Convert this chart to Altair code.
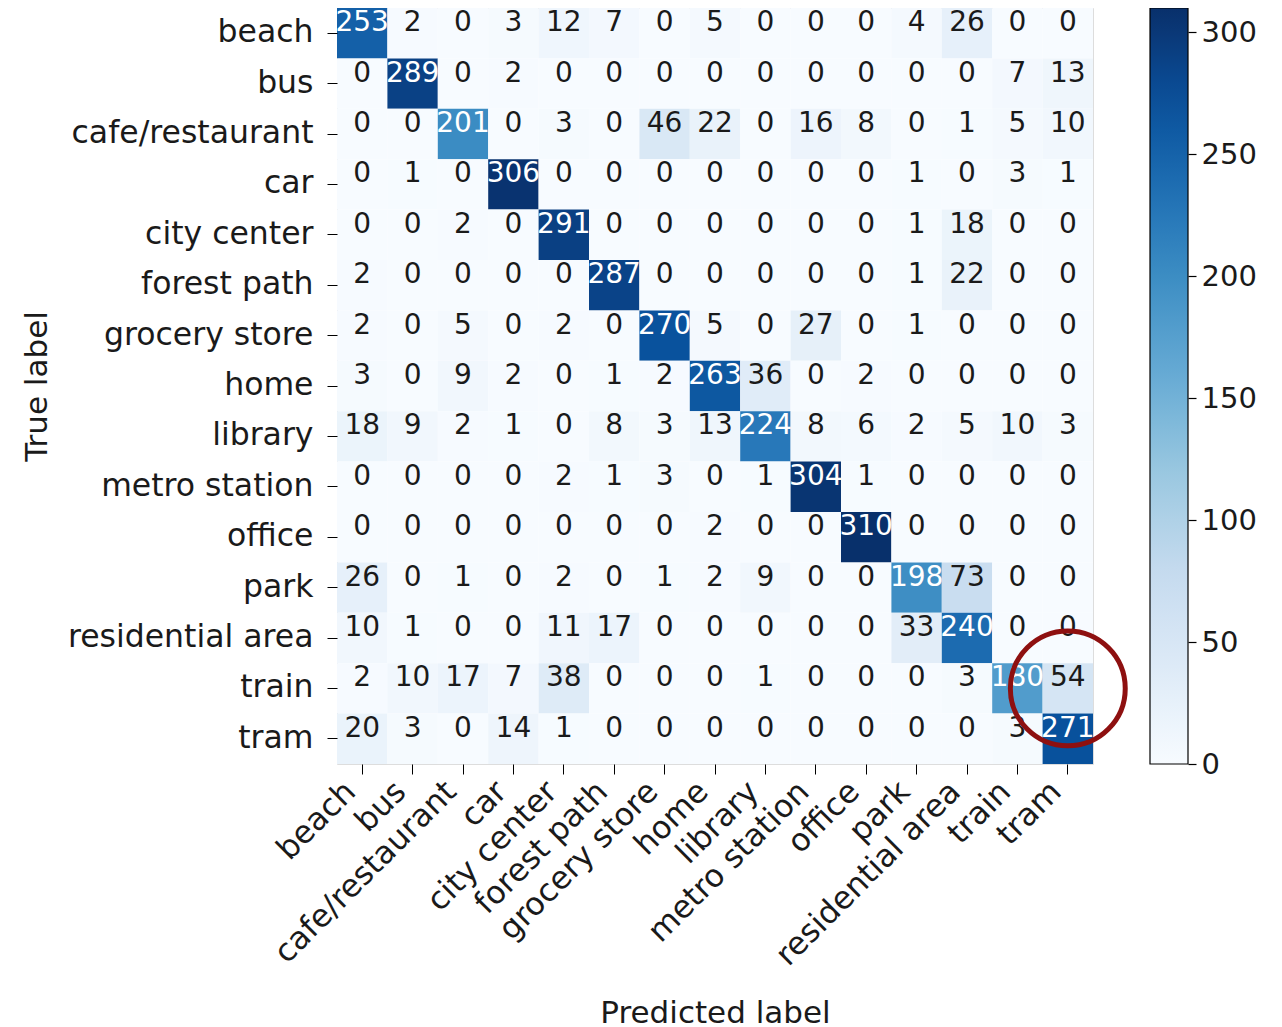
import altair as alt
import pandas as pd

labels = ["beach", "bus", "cafe/restaurant", "car", "city center", "forest path",
          "grocery store", "home", "library", "metro station", "office", "park",
          "residential area", "train", "tram"]

row_beach = [253, 2, 0, 3, 12, 7, 0, 5, 0, 0, 0, 4, 26, 0, 0]
row_bus = [0, 289, 0, 2, 0, 0, 0, 0, 0, 0, 0, 0, 0, 7, 13]
row_cafe = [0, 0, 201, 0, 3, 0, 46, 22, 0, 16, 8, 0, 1, 5, 10]
row_car = [0, 1, 0, 306, 0, 0, 0, 0, 0, 0, 0, 1, 0, 3, 1]
row_city = [0, 0, 2, 0, 291, 0, 0, 0, 0, 0, 0, 1, 18, 0, 0]
row_forest = [2, 0, 0, 0, 0, 287, 0, 0, 0, 0, 0, 1, 22, 0, 0]
row_grocery = [2, 0, 5, 0, 2, 0, 270, 5, 0, 27, 0, 1, 0, 0, 0]
row_home = [3, 0, 9, 2, 0, 1, 2, 263, 36, 0, 2, 0, 0, 0, 0]
row_library = [18, 9, 2, 1, 0, 8, 3, 13, 224, 8, 6, 2, 5, 10, 3]
row_metro = [0, 0, 0, 0, 2, 1, 3, 0, 1, 304, 1, 0, 0, 0, 0]
row_office = [0, 0, 0, 0, 0, 0, 0, 2, 0, 0, 310, 0, 0, 0, 0]
row_park = [26, 0, 1, 0, 2, 0, 1, 2, 9, 0, 0, 198, 73, 0, 0]
row_residential = [10, 1, 0, 0, 11, 17, 0, 0, 0, 0, 0, 33, 240, 0, 0]
row_train = [2, 10, 17, 7, 38, 0, 0, 0, 1, 0, 0, 0, 3, 180, 54]
row_tram = [20, 3, 0, 14, 1, 0, 0, 0, 0, 0, 0, 0, 0, 3, 271]

rows = [row_beach, row_bus, row_cafe, row_car, row_city, row_forest, row_grocery,
        row_home, row_library, row_metro, row_office, row_park, row_residential,
        row_train, row_tram]

colorbar_ticks = [0, 50, 100, 150, 200, 250, 300]
highlight_pred = ["tram"]
highlight_true = ["train"]

records = []
for t, r in zip(labels, rows):
    for p, v in zip(labels, r):
        records.append({"true": t, "pred": p, "v": v})
df = pd.DataFrame(records)
hl = pd.DataFrame({"pred": highlight_pred, "true": highlight_true})
ticks_df = pd.DataFrame({"tick": colorbar_ticks})

vmax = 310
blues = ["#f7fbff", "#deebf7", "#c6dbef", "#9ecae1", "#6baed6",
         "#4292c6", "#2171b5", "#08519c", "#08306b"]
stops = [vmax * i / 8 for i in range(9)]

FONT = "DejaVu Sans"
TXT = "#1a1a1a"

xenc = alt.X("pred:N", sort=labels,
             scale=alt.Scale(domain=labels, paddingInner=0, paddingOuter=0),
             axis=alt.Axis(title="Predicted label", labelAngle=-45, labelAlign="right",
                           labelBaseline="bottom", labelPadding=24, tickSize=10,
                           labelFontSize=31.5, titleFontSize=31, titleFontWeight="normal",
                           titleBaseline="alphabetic", titleY=258, titleX=378,
                           labelFont=FONT, titleFont=FONT, labelColor=TXT,
                           titleColor=TXT, domain=False, tickColor="#000",
                           labelLimit=0, labelOverlap=False, labelBound=False,
                           labelFlush=False))
yenc = alt.Y("true:N", sort=labels,
             scale=alt.Scale(domain=labels, paddingInner=0, paddingOuter=0),
             axis=alt.Axis(title="True label", tickSize=10, labelPadding=14,
                           labelFontSize=31.5, titleFontSize=31, titleFontWeight="normal",
                           titleAngle=-90, titleX=-291, titleY=378, titleAlign="center",
                           titleBaseline="alphabetic", labelLimit=0, orient="left",
                           labelFont=FONT, titleFont=FONT, labelColor=TXT,
                           titleColor=TXT, domain=False, tickColor="#000",
                           labelOverlap=False))

heat = alt.Chart(df).mark_rect().encode(
    x=xenc, y=yenc,
    color=alt.Color("v:Q",
                    scale=alt.Scale(domain=stops, range=blues),
                    legend=alt.Legend(title=None, orient="none", legendX=813, legendY=0,
                                      direction="vertical", gradientLength=756,
                                      gradientThickness=38, gradientStrokeColor="#000",
                                      gradientStrokeWidth=1.2, values=colorbar_ticks,
                                      labelOpacity=0, labelFontSize=1)),
)

text = alt.Chart(df).mark_text(fontSize=28, font=FONT, dy=-10, baseline="middle").encode(
    x=alt.X("pred:N", sort=labels), y=alt.Y("true:N", sort=labels),
    text="v:Q",
    color=alt.condition("datum.v > 155", alt.value("white"), alt.value(TXT)),
)

circle = alt.Chart(hl).mark_point(shape="circle", size=13200, filled=False,
                                  stroke="#8e1010", strokeWidth=5, opacity=1).encode(
    x=alt.X("pred:N", sort=labels), y=alt.Y("true:N", sort=labels),
)

matrix = alt.layer(heat, text, circle)

cbar_axis = alt.Chart(ticks_df).mark_tick(opacity=0).encode(
    y=alt.Y("tick:Q",
            scale=alt.Scale(domain=[0, vmax], nice=False, zero=False),
            axis=alt.Axis(orient="right", offset=95, values=colorbar_ticks, title=None,
                          domain=False, grid=False, tickSize=8, tickWidth=1.2,
                          tickColor="#000", labelPadding=5, labelFontSize=29,
                          labelFont=FONT, labelColor=TXT, labelBaseline="middle",
                          labelFlush=False, labelOverlap=False, labelBound=False)),
)

chart = alt.layer(matrix, cbar_axis).resolve_scale(
    y="independent"
).resolve_axis(y="independent").properties(
    width=756, height=756,
    autosize=alt.AutoSizeParams(type="none"),
    padding={"left": 329, "top": 0, "right": 180, "bottom": 262},
).configure_view(stroke="#000", strokeWidth=1.5).configure(background="white")

chart.save("out.html", embed_options={"renderer": "svg", "actions": False})
